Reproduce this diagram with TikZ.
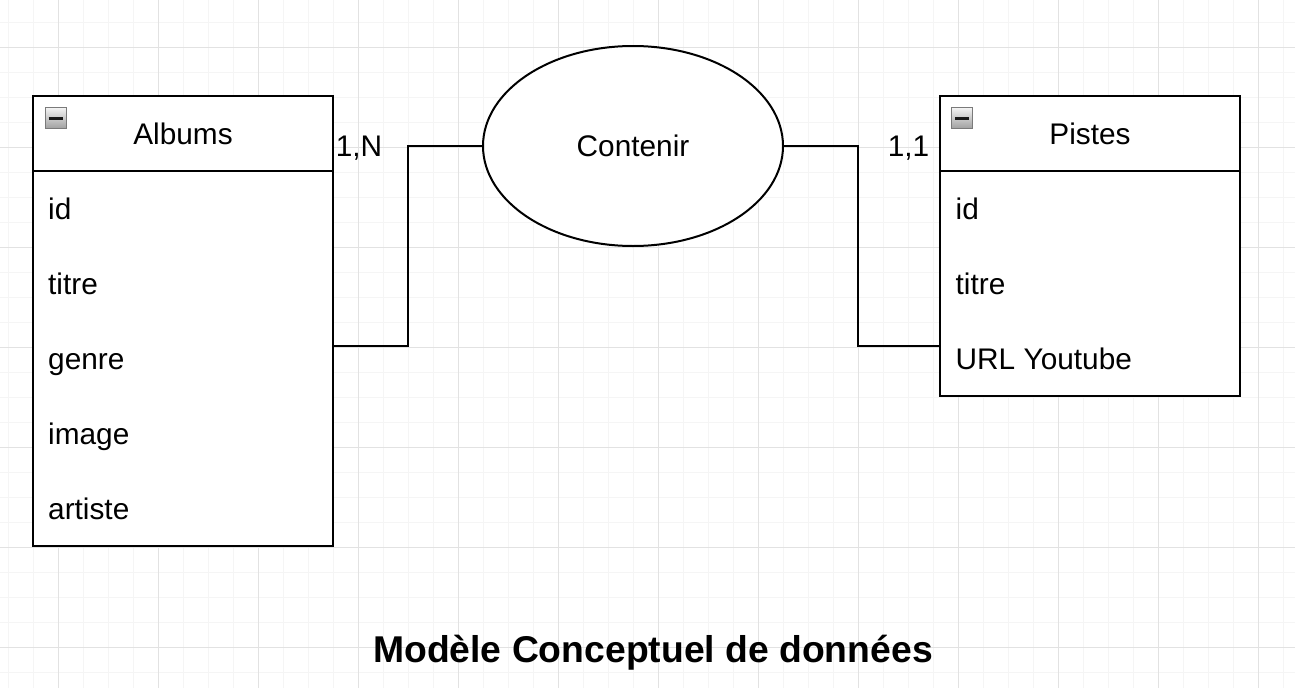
\documentclass[tikz,border=0pt]{standalone}
\usepackage{fontspec}
\setmainfont{Liberation Sans}
\usetikzlibrary{shapes.geometric}
\definecolor{gridmajor}{HTML}{E2E2E2}
\definecolor{gridminor}{HTML}{F5F5F5}
\definecolor{icontop}{HTML}{F4F4F4}
\definecolor{iconbot}{HTML}{A0A0A0}
\definecolor{iconedge}{HTML}{7A7A7A}
\begin{document}
\begin{tikzpicture}[x=1pt,y=-1pt,
  txt/.style={font=\fontsize{29.8}{35}\selectfont, text height=21pt, text depth=0pt, inner sep=0pt},
  hdr/.style={txt, draw, line width=2pt, minimum width=300pt, minimum height=75pt},
  bodybox/.style={draw, line width=2pt, minimum width=300pt, inner sep=0pt},
  rowtxt/.style={txt, anchor=west},
  rel/.style={txt, ellipse, draw, line width=2pt, minimum width=300pt, minimum height=200pt},
  card/.style={txt},
  link/.style={line width=2pt},
  icon/.style={draw=iconedge, line width=1pt, top color=icontop, bottom color=iconbot, minimum size=21pt, inner sep=0pt,
    path picture={\draw[line width=3pt, black!90] ([xshift=-7pt]path picture bounding box.center) -- ([xshift=7pt]path picture bounding box.center);}},
  ttl/.style={font=\bfseries\fontsize{37.3}{44}\selectfont, text height=27pt, text depth=0pt, inner sep=0pt}
]
\useasboundingbox (0,0) rectangle (1295,688);
\fill[white] (0,0) rectangle (1295,688);
% grid
\foreach \x in {8,33,...,1295} \draw[gridminor, line width=0.8pt] (\x,0) -- (\x,688);
\foreach \y in {22,47,...,688} \draw[gridminor, line width=0.8pt] (0,\y) -- (1295,\y);
\foreach \x in {58,158,...,1295} \draw[gridmajor, line width=0.9pt] (\x,0) -- (\x,688);
\foreach \y in {47,147,...,688} \draw[gridmajor, line width=0.9pt] (0,\y) -- (1295,\y);

% Albums entity
\node[bodybox, fill=white, minimum height=375pt] (albumsB) at (183,358.5) {};
\node[hdr, fill=white] (albumsH) at (183,133.5) {Albums};
\node[icon] (albumsI) at (55.5,118) {};
\node[rowtxt] (aId) at (48,208.5) {id};
\node[rowtxt] (aTitre) at (48,283.5) {titre};
\node[rowtxt] (aGenre) at (48,358.5) {genre};
\node[rowtxt] (aImage) at (48,433.5) {image};
\node[rowtxt] (aArtiste) at (48,508.5) {artiste};

% Pistes entity
\node[bodybox, fill=white, minimum height=225pt] (pistesB) at (1090,283.5) {};
\node[hdr, fill=white] (pistesH) at (1090,133.5) {Pistes};
\node[icon] (pistesI) at (962,118) {};
\node[rowtxt] (pId) at (955.5,208.5) {id};
\node[rowtxt] (pTitre) at (955.5,283.5) {titre};
\node[rowtxt] (pUrl) at (955.5,358.5) {URL Youtube};

% Relation
\node[rel, fill=white] (contenir) at (633,146) {Contenir};

% cardinalities
\node[card] (cardA) at (359,146) {1,N};
\node[card] (cardP) at (908.5,146) {1,1};

% connectors
\coordinate (aPort) at (333,345.5);
\coordinate (pPort) at (940,346);
\draw[link] (aPort) -- (408,345.5) |- (contenir.west);
\draw[link] (pPort) -- (858,346) |- (contenir.east);

% title
\node[ttl] (title) at (653,648.5) {Modèle Conceptuel de données};
\end{tikzpicture}
\end{document}
